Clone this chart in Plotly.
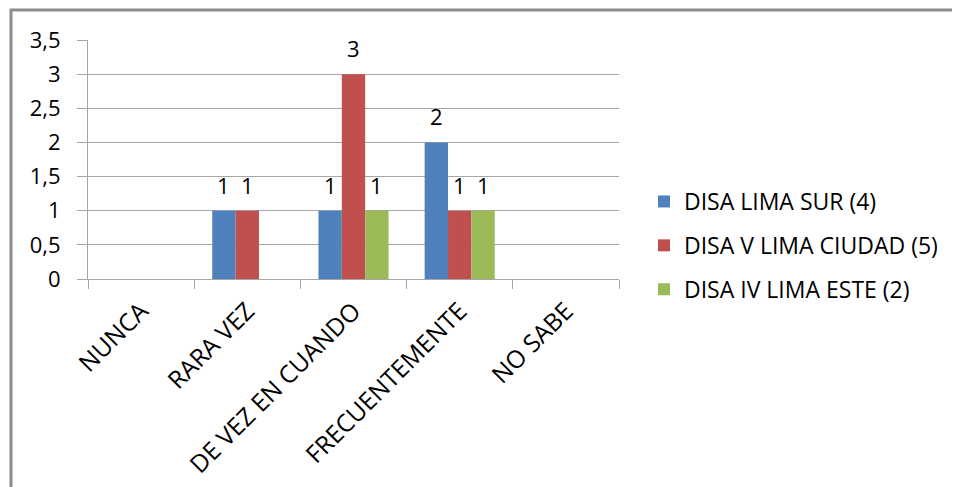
import plotly.graph_objects as go

categories = ["NUNCA", "RARA VEZ", "DE VEZ EN CUANDO", "FRECUENTEMENTE", "NO SABE"]
series_names = ["DISA LIMA SUR (4)", "DISA V LIMA CIUDAD (5)", "DISA IV LIMA ESTE (2)"]
lima_sur = [None, 1, 1, 2, None]
lima_ciudad = [None, 1, 3, 1, None]
lima_este = [None, None, 1, 1, None]
colors = ["#4F81BD", "#C0504D", "#9BBB59"]
y_ticks = [0, 0.5, 1, 1.5, 2, 2.5, 3, 3.5]

OFF = 8  # page body margin
W, H = 960 - OFF, 487 - OFF
# plot area in page pixel coordinates
L, R, T, B = 88, 619, 40, 279
pw, ph = R - L, B - T
bargap = 0.34
FONT = "Open Sans"
fs = 22
lfs = 23
xfs = 24.5

fig = go.Figure()
all_series = [lima_sur, lima_ciudad, lima_este]
for i, (name, vals) in enumerate(zip(series_names, all_series)):
    fig.add_trace(go.Bar(
        x=categories, y=vals, name=name, marker_color=colors[i],
        marker_line_width=0, legendgroup=f"g{i}",
    ))

bar_w = pw / len(categories) * (1 - bargap) / 3
annotations = []
for i, vals in enumerate(all_series):
    for c, v in zip(categories, vals):
        if v is None:
            continue
        annotations.append(dict(
            x=c, y=v, xref="x", yref="y", text=str(v), showarrow=False,
            xshift=(i - 1) * bar_w, yshift=9, yanchor="bottom",
            font=dict(family=FONT, size=fs, color="#000000"),
        ))

def px_x(p):
    return (p - L) / pw

def px_y(p):
    return (B - p) / ph

border = "#8C8C8C"
shapes = [
    dict(type="line", xref="paper", yref="paper", x0=px_x(10), x1=px_x(970),
         y0=px_y(10), y1=px_y(10), line=dict(color=border, width=3)),
    dict(type="line", xref="paper", yref="paper", x0=px_x(11), x1=px_x(11),
         y0=px_y(9), y1=px_y(500), line=dict(color=border, width=3)),
]

fig.update_layout(
    width=W, height=H,
    margin=dict(l=L - OFF, r=W - (R - OFF), t=T - OFF, b=H - (B - OFF), pad=0,
                autoexpand=False),
    paper_bgcolor="white", plot_bgcolor="white",
    barmode="group", bargap=bargap, bargroupgap=0,
    separators=",.",
    font=dict(family=FONT, size=fs, color="#000000"),
    showlegend=True,
    legend=dict(x=px_x(644), y=px_y(180), xanchor="left", yanchor="top",
                traceorder="grouped", tracegroupgap=11,
                font=dict(family=FONT, size=lfs, color="#000000"),
                bgcolor="rgba(0,0,0,0)"),
    annotations=annotations,
    shapes=shapes,
)
fig.update_xaxes(
    type="category", tickangle=-45, tickson="boundaries", automargin=False,
    ticks="outside", ticklen=9, tickcolor="#A6A6A6", tickwidth=1,
    showline=True, linecolor="#A6A6A6", linewidth=1,
    showgrid=False, ticklabelstandoff=7,
    tickfont=dict(family=FONT, size=xfs, color="#000000"),
)
fig.update_yaxes(
    range=[0, 3.5], tickvals=y_ticks, ticks="outside", ticklen=10,
    automargin=False,
    tickcolor="#A6A6A6", tickwidth=1,
    showline=True, linecolor="#A6A6A6", linewidth=1,
    showgrid=True, gridcolor="#A6A6A6", gridwidth=1, zeroline=False,
    ticklabelstandoff=12,
    tickfont=dict(family=FONT, size=fs, color="#000000"),
)

fig.write_html("out.html")
